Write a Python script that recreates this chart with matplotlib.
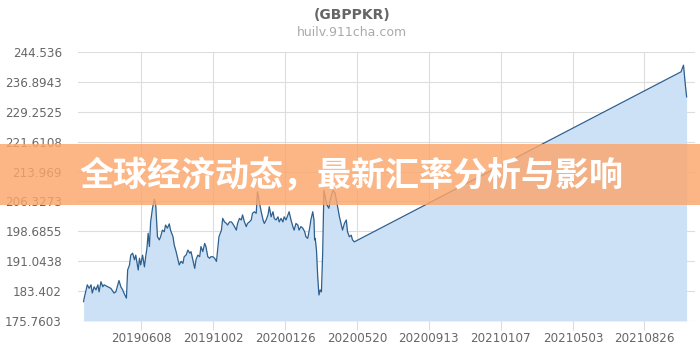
import datetime as dt
import matplotlib
matplotlib.use("Agg")
import matplotlib.pyplot as plt

# -------------------------------------
# Data
# -------------------------------------

start_date = dt.date(2019, 3, 7)
axis_start = dt.date(2019, 2, 26)
axis_end = dt.date(2021, 11, 15)

day_offsets = [
    0, 1, 4, 6, 9, 12, 14, 17, 20, 23, 25, 28, 31, 33, 39, 44, 49, 52, 55, 57,
    60, 63, 65, 69, 71, 74, 76, 79, 82, 84, 88, 90, 92, 95, 98, 100, 102, 104,
    106, 108, 111, 114, 116, 119, 122, 124, 127, 130, 132, 135, 138, 140, 144,
    146, 149, 152, 154, 157, 160, 162, 165, 168, 171, 173, 176, 179, 181, 184,
    187, 189, 192, 195, 197, 200, 203, 205, 208, 211, 214, 218, 222, 224, 227,
    230, 232, 235, 238, 240, 243, 246, 248, 251, 254, 256, 259, 262, 264, 267,
    270, 272, 275, 278, 280, 283, 286, 289, 291, 294, 297, 299, 302, 305, 307,
    310, 313, 315, 318, 321, 323, 326, 329, 331, 334, 337, 339, 342, 345, 347,
    350, 353, 356, 358, 361, 364, 366, 369, 371, 372, 373, 375, 377, 379, 381,
    383, 385, 387, 389, 392, 395, 397, 400, 402, 405, 408, 412, 415, 417, 420,
    423, 425, 428, 431, 433, 436, 962, 966, 969, 971,
]

rates = [
    180.7, 181.6, 183.7, 185.0, 184.1, 185.0, 182.9, 184.5, 183.7, 185.0,
    183.2, 185.8, 184.5, 185.0, 184.5, 184.1, 182.9, 183.2, 185.0, 186.1,
    184.5, 183.7, 182.9, 181.6, 188.8, 190.1, 192.6, 193.1, 191.4, 192.6,
    188.8, 191.8, 190.1, 192.6, 189.6, 192.2, 194.3, 198.2, 194.8, 201.1,
    204.6, 206.9, 205.9, 197.3, 196.5, 197.3, 199.0, 198.6, 200.3, 199.5,
    200.6, 199.0, 197.3, 195.2, 193.5, 191.4, 190.1, 191.0, 190.5, 192.2,
    192.6, 193.9, 193.1, 193.5, 191.4, 189.2, 191.4, 192.6, 192.2, 194.8,
    193.5, 195.6, 194.8, 192.2, 191.8, 192.2, 192.2, 191.8, 191.0, 197.3,
    199.0, 202.0, 201.1, 200.7, 200.3, 201.1, 201.1, 200.7, 199.9, 199.0,
    200.7, 202.0, 201.6, 202.9, 201.1, 199.9, 200.7, 201.1, 201.6, 203.3,
    203.7, 203.3, 208.8, 206.2, 203.7, 201.6, 200.7, 201.6, 202.9, 205.0,
    202.4, 203.7, 202.0, 201.6, 202.4, 201.1, 202.0, 201.1, 202.4, 201.6,
    202.9, 203.7, 201.6, 199.9, 199.0, 200.7, 200.3, 199.0, 199.9, 199.5,
    198.6, 197.3, 196.9, 199.5, 201.6, 203.7, 201.6, 196.5, 196.9, 193.9,
    187.1, 182.4, 183.7, 183.2, 193.1, 209.2, 207.5, 205.4, 204.6, 206.7,
    208.4, 209.2, 208.4, 205.9, 202.4, 200.3, 199.0, 200.7, 201.6, 198.6,
    197.3, 197.7, 196.5, 196.0, 239.5, 241.2, 236.1, 233.1,
]

y_ticks = [175.7603, 183.402, 191.0438, 198.6855, 206.3273,
           213.969, 221.6108, 229.2525, 236.8943, 244.536]
y_tick_labels = ["175.7603", "183.402", "191.0438", "198.6855", "206.3273",
                 "213.969", "221.6108", "229.2525", "236.8943", "244.536"]

x_tick_labels = ["20190608", "20191002", "20200126", "20200520",
                 "20200913", "20210107", "20210503", "20210826"]

title_text = "(GBPPKR)"
subtitle_text = "huilv.911cha.com"
banner_text = "全球经济动态，最新汇率分析与影响"

# -------------------------------------
# Figure
# -------------------------------------

dates = [start_date + dt.timedelta(days=d) for d in day_offsets]
x_ticks = [dt.datetime.strptime(s, "%Y%m%d").date() for s in x_tick_labels]

fig = plt.figure(figsize=(7, 3.5), dpi=100)
ax = fig.add_axes([0.1114, 0.083, 0.881, 0.768])

ax.fill_between(dates, rates, y_ticks[0], color="#cce1f5", linewidth=0)
ax.plot(dates, rates, color="#2d5f8f", linewidth=0.9)

ax.set_xlim(axis_start, axis_end)
ax.set_ylim(y_ticks[0], y_ticks[-1])

ax.set_yticks(y_ticks)
ax.set_yticklabels(y_tick_labels)
ax.set_xticks(x_ticks)
ax.set_xticklabels(x_tick_labels)

ax.grid(True, color="#dddddd", linewidth=0.8)
ax.set_axisbelow(True)
for s in ax.spines.values():
    s.set_visible(False)

ax.tick_params(axis="both", colors="#dddddd", labelcolor="#666666",
               labelsize=8.6, width=0.8)
ax.tick_params(axis="y", length=0, pad=11.5)
ax.tick_params(axis="x", length=6.5, pad=1.5)

fig.text(0.503, 0.957, title_text, ha="center", va="center",
         fontsize=10, fontweight="bold", color="#666666")
fig.text(0.503, 0.906, subtitle_text, ha="center", va="center",
         fontsize=9, color="#aaaaaa")

# orange banner across the chart
fig.patches.append(plt.Rectangle((0, 0.414), 1, 0.175,
                                 transform=fig.transFigure,
                                 facecolor="#fca66b", alpha=0.82,
                                 edgecolor="none", zorder=5))
fig.text(0.114, 0.497, banner_text, ha="left", va="center",
         fontsize=24.5, fontweight="black", color="white",
         family=["Noto Sans CJK SC", "DejaVu Sans"], zorder=6)

fig.savefig("out.png", dpi=100)
